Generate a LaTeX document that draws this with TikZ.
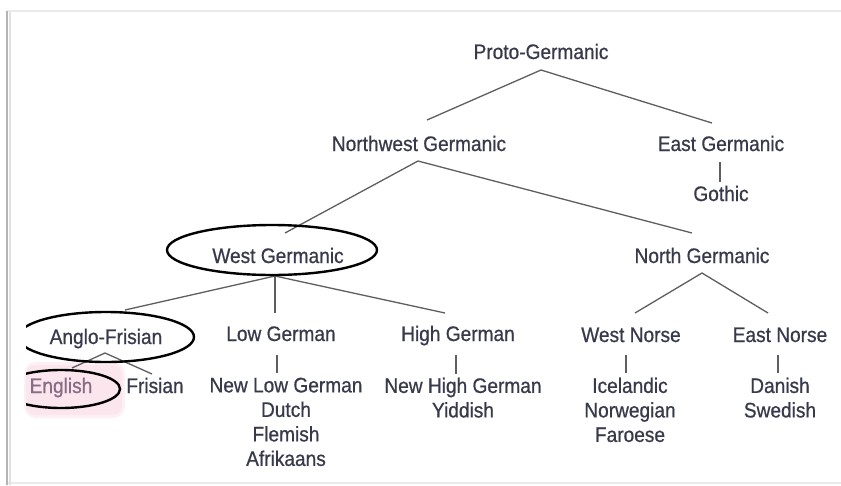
\documentclass[tikz,border=0pt]{standalone}
\usepackage{fontspec}
\setmainfont{Liberation Sans}[FakeStretch=0.91,FakeBold=0.7]
\definecolor{ink}{HTML}{383A4C}
\definecolor{branch}{HTML}{5E5E62}
\definecolor{hilite}{HTML}{FCE6EE}
\definecolor{hiliteink}{HTML}{876C86}
\definecolor{frameleft}{HTML}{B4B4B4}
\definecolor{frametop}{HTML}{EAEAEA}
\begin{document}
\begin{tikzpicture}[x=1pt,y=-1pt,
  lang/.style={anchor=base,inner sep=0pt,text=ink,align=center,
    font=\fontsize{21}{24.5}\selectfont},
  branchline/.style={draw=branch,line width=1.3pt},
  oval/.style={draw=black,line width=2.4pt}]
\useasboundingbox (0,0) rectangle (841,485);
\fill[white] (0,0) rectangle (841,485);

% page frame
\draw[frametop,line width=2pt] (7,11) -- (841,11);
\draw[frametop,line width=1.5pt] (7,483) -- (841,483);
\draw[frameleft,line width=2.2pt] (7,11) -- (7,485);
\draw[frameleft!40,line width=2pt] (9.5,12) -- (9.5,485);

% soft highlight behind English
\fill[hilite!60,rounded corners=12pt] (24,362) rectangle (125,418);
\fill[hilite,rounded corners=9pt] (26,365) rectangle (122,415);

% family names
\node[lang] (pg)  at (541,59)  {Proto-Germanic};
\node[lang] (nwg) at (419,151) {Northwest Germanic};
\node[lang] (eg)  at (721,151) {East Germanic};
\node[lang] (got) at (721,201) {Gothic};
\node[lang] (wg)  at (278,263) {West Germanic};
\node[lang] (ng)  at (702,263) {North Germanic};
\node[lang] (af)  at (106,344) {Anglo-Frisian};
\node[lang] (lg)  at (281,341) {Low German};
\node[lang] (hg)  at (458,341) {High German};
\node[lang] (wn)  at (631,342) {West Norse};
\node[lang] (en)  at (780,342) {East Norse};
\node[lang,text=hiliteink] (eng) at (61,393) {English};
\node[lang] (fri) at (155,393) {Frisian};
\node[lang,anchor=north] (nlg) at (286,377.5) {New Low German\\Dutch\\Flemish\\Afrikaans};
\node[lang,anchor=north] (nhg) at (463,377.5) {New High German\\Yiddish};
\node[lang,anchor=north] (isl) at (630,377.5) {Icelandic\\Norwegian\\Faroese};
\node[lang,anchor=north] (dan) at (780,377.5) {Danish\\Swedish};

% branch points under each parent and tops of each child
\coordinate (pg-j)  at (541,70);
\coordinate (nwg-t) at (427,120);
\coordinate (eg-t)  at (712,123);
\coordinate (nwg-j) at (418,161);
\coordinate (wg-t)  at (285,233);
\coordinate (ng-t)  at (692,233);
\coordinate (eg-j)  at (720,162);
\coordinate (got-t) at (720,182);
\coordinate (wg-j)  at (275,276);
\coordinate (af-t)  at (125,310);
\coordinate (lg-t)  at (275,313);
\coordinate (hg-t)  at (445,313);
\coordinate (ng-j)  at (702,273);
\coordinate (wn-t)  at (635,313);
\coordinate (en-t)  at (768,313);
\coordinate (af-j)  at (105,353);
\coordinate (eng-t) at (72,368);
\coordinate (fri-t) at (152,374);
\coordinate (lg-j)  at (277,355);
\coordinate (nlg-t) at (277,373);
\coordinate (hg-j)  at (456,355);
\coordinate (nhg-t) at (456,374);
\coordinate (wn-j)  at (626,355);
\coordinate (isl-t) at (626,373);
\coordinate (en-j)  at (778,355);
\coordinate (dan-t) at (778,373);

% tree branches
\draw[branchline] (nwg-t) -- (pg-j) -- (eg-t);
\draw[branchline] (wg-t) -- (nwg-j) -- (ng-t);
\draw[branchline] (eg-j) -- (got-t);
\draw[branchline] (af-t) -- (wg-j) -- (hg-t);
\draw[branchline] (wg-j) -- (lg-t);
\draw[branchline] (wn-t) -- (ng-j) -- (en-t);
\draw[branchline] (eng-t) -- (af-j) -- (fri-t);
\draw[branchline] (lg-j) -- (nlg-t);
\draw[branchline] (hg-j) -- (nhg-t);
\draw[branchline] (wn-j) -- (isl-t);
\draw[branchline] (en-j) -- (dan-t);

% hand-drawn rings, cut at the left margin
\begin{scope}
  \clip (26,0) rectangle (841,485);
  \draw[oval] (272,250) ellipse [x radius=105, y radius=25];
  \draw[oval] (106,337) ellipse [x radius=88, y radius=25];
  \draw[oval] (61,389) ellipse [x radius=59, y radius=19];
\end{scope}
\end{tikzpicture}
\end{document}
